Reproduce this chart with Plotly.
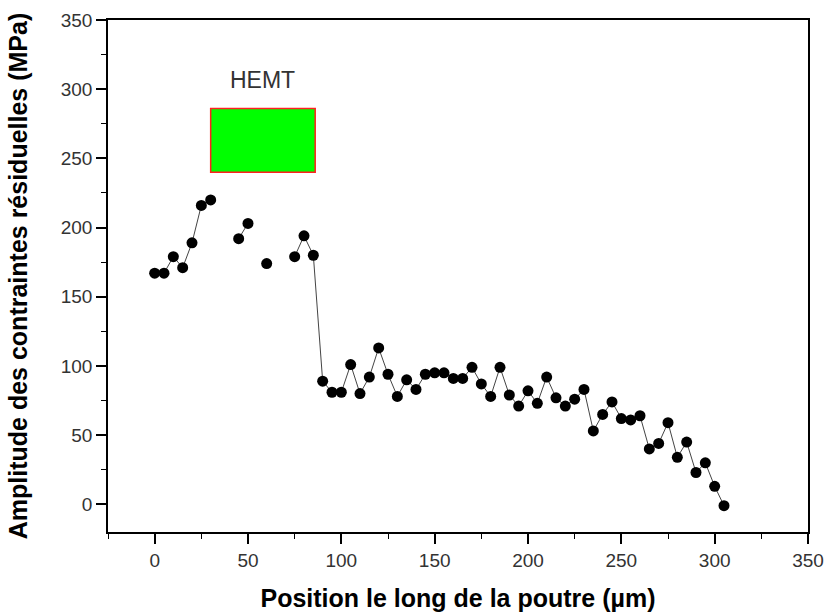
import plotly.graph_objects as go

# position along the beam (µm) and residual stress amplitude (MPa); None = no measurement
position = [0, 5, 10, 15, 20, 25, 30, 35, 40, 45, 50, 55, 60, 65, 70, 75, 80, 85,
            90, 95, 100, 105, 110, 115, 120, 125, 130, 135, 140, 145, 150, 155, 160,
            165, 170, 175, 180, 185, 190, 195, 200, 205, 210, 215, 220, 225, 230, 235,
            240, 245, 250, 255, 260, 265, 270, 275, 280, 285, 290, 295, 300, 305]
stress = [167, 167, 179, 171, 189, 216, 220, None, None, 192, 203, None, 174, None, None,
          179, 194, 180,
          89, 81, 81, 101, 80, 92, 113, 94, 78, 90, 83, 94, 95, 95, 91,
          91, 99, 87, 78, 99, 79, 71, 82, 73, 92, 77, 71, 76, 83, 53,
          65, 74, 62, 61, 64, 40, 44, 59, 34, 45, 23, 30, 13, -1]

hemt_x = [30, 86]
hemt_y = [240, 286]

FONT = "Liberation Sans, Arial, sans-serif"

fig = go.Figure()
fig.add_trace(go.Scatter(
    x=position, y=stress, mode="lines+markers",
    line=dict(color="#444444", width=1),
    marker=dict(color="black", size=11),
    connectgaps=False, showlegend=False,
))

fig.add_shape(type="rect", x0=hemt_x[0], x1=hemt_x[1], y0=hemt_y[0], y1=hemt_y[1],
              fillcolor="#00ff00", line=dict(color="#ff2020", width=1.5))
fig.add_annotation(x=(hemt_x[0] + hemt_x[1]) / 2, y=307, text="HEMT", showarrow=False,
                   font=dict(family=FONT, size=23, color="#333333"))

axis_common = dict(
    showline=True, mirror=True, linecolor="black", linewidth=1.5,
    ticks="outside", ticklen=10, tickwidth=1.5, tickcolor="black",
    showgrid=False, zeroline=False, automargin=False,
    tickfont=dict(family=FONT, size=19, color="#333333"),
    minor=dict(ticks="outside", ticklen=5, tickwidth=1.2, tickcolor="black", dtick=25),
)

fig.update_xaxes(range=[-25, 350], dtick=50, tick0=0,
                 title=dict(text="<b>Position le long de la poutre (µm)</b>",
                            font=dict(family=FONT, size=25, color="black"),
                            standoff=20),
                 **axis_common)
fig.update_yaxes(range=[-20, 350], dtick=50, tick0=0,
                 title=dict(text="<b>Amplitude des contraintes résiduelles (MPa)</b>",
                            font=dict(family=FONT, size=25, color="black"),
                            standoff=26),
                 **axis_common)

fig.update_layout(
    width=826, height=616,
    margin=dict(l=108, r=18, t=20, b=84),
    plot_bgcolor="white", paper_bgcolor="white",
)

# drop the default body margin so the figure fills the window exactly
fig.write_html("out.html", config={"displayModeBar": False},
               post_script="document.body.style.margin='0';document.body.style.overflow='hidden';")
